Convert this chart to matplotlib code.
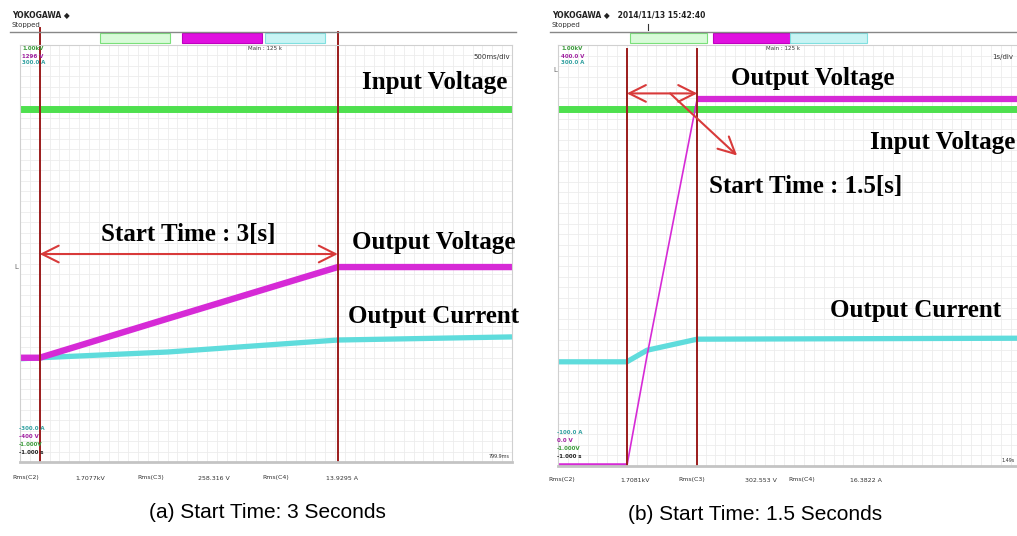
import matplotlib
matplotlib.use("Agg")
import numpy as np
import matplotlib.pyplot as plt

W, H = 1017, 536

# (a) 500 ms/div -- time in s, levels in screen divisions (0 = bottom of grid)
t_a = [0.0, 0.2, 1.5, 3.23, 5.0]
vin_a = [6.77, 6.77, 6.77, 6.77, 6.77]
vout_a = [2.0, 2.0, 2.75, 3.74, 3.74]
iout_a = [1.98, 2.0, 2.11, 2.34, 2.40]
start_a, end_a = 0.2, 3.23

# (b) 1 s/div
t_b = [0.0, 1.40, 1.81, 2.83, 10.0]
vin_b = [6.79, 6.79, 6.79, 6.79, 6.79]
vout_b = [0.0, 0.0, 2.1, 6.98, 6.98]
iout_b = [1.98, 1.98, 2.2, 2.41, 2.43]
start_b, end_b = 1.40, 2.83

GREEN = "#4ee04e"
MAGENTA = "#d62ad6"
CYAN = "#5fdcdc"
DARKRED = "#9b1c1c"
ARROW = "#d83a3a"
SERIF = "Liberation Serif"


def rect(x0, y0, x1, y1):
    return [x0 / W, 1 - y1 / H, (x1 - x0) / W, (y1 - y0) / H]


def ftext(x, y, s, **kw):
    fig.text(x / W, 1 - y / H, s, **kw)


fig = plt.figure(figsize=(W / 100, H / 100), dpi=100)


def scope_axes(box, xmax, minor):
    ax = fig.add_axes(box)
    ax.set_xlim(0, xmax)
    ax.set_ylim(0, 8)
    ax.set_xticks(np.arange(0, xmax + 1e-9, minor))
    ax.set_yticks(np.arange(0, 8.01, 0.2))
    ax.tick_params(length=0, labelbottom=False, labelleft=False)
    ax.grid(True, color="#ececec", linewidth=0.6)
    ax.set_axisbelow(True)
    for s in ax.spines.values():
        s.set_color("#d0d0d0")
    ax.spines["bottom"].set_linewidth(2)
    ax.spines["bottom"].set_color("#c4c4c4")
    return ax


def header(x0, x1, date, boxes):
    ftext(x0 + 2, 15, "YOKOGAWA \u25c6" + date, fontsize=5.5, fontweight="bold",
          va="center", color="#222222")
    ftext(x0 + 2, 25, "Stopped", fontsize=5, va="center", color="#333333")
    fig.add_artist(plt.Line2D([x0 / W, x1 / W], [1 - 32 / H] * 2, color="#888888", lw=1))
    for bx0, bx1, fc, ec in boxes:
        fig.add_artist(plt.Rectangle((bx0 / W, 1 - 43 / H), (bx1 - bx0) / W, 10 / H,
                                     facecolor=fc, edgecolor=ec, lw=0.8))


# ---------------- panel (a) ----------------
header(10, 516, "", [(100, 170, "#d8fbd8", "#7ae07a"), (182, 262, "#e010e0", "#c000c0"),
                     (265, 325, "#c8f4f4", "#80e0e0")])
axa = scope_axes(rect(20, 45, 512, 462), 5.0, 0.1)
axa.plot(t_a, vin_a, color=GREEN, lw=5, solid_capstyle="butt")
axa.plot(t_a, iout_a, color=CYAN, lw=3.8, solid_capstyle="butt")
axa.plot(t_a, vout_a, color=MAGENTA, lw=4.6, solid_capstyle="butt")
axa.axvline(start_a, ymin=0, ymax=1.04, color=DARKRED, lw=1.4, clip_on=False)
axa.axvline(end_a, ymin=0, ymax=1.03, color=DARKRED, lw=1.4, clip_on=False)
axa.annotate("", xy=(start_a, 3.99), xytext=(end_a, 3.99),
             arrowprops=dict(arrowstyle="<->,head_length=1.2,head_width=0.6", color=ARROW, lw=1.5,
                             shrinkA=0, shrinkB=0))
ftext(188, 234, "Start Time : 3[s]", family=SERIF, fontweight="bold", fontsize=18,
      ha="center", va="center")
ftext(435, 82, "Input Voltage", family=SERIF, fontweight="bold", fontsize=18,
      ha="center", va="center")
ftext(434, 242, "Output Voltage", family=SERIF, fontweight="bold", fontsize=18,
      ha="center", va="center")
ftext(434, 316, "Output Current", family=SERIF, fontweight="bold", fontsize=18,
      ha="center", va="center")
ftext(265, 49, "Main : 125 k", fontsize=4, ha="center", va="center", color="#333333")
ftext(510, 57, "500ms/div", fontsize=5, ha="right", va="center", color="#333333")
ftext(22, 49, "1.00kV", fontsize=4, color="#3a9a3a", fontweight="bold", va="center")
ftext(22, 56, "1296 V", fontsize=4, color="#a020a0", fontweight="bold", va="center")
ftext(22, 63, "300.0 A", fontsize=4, color="#30a0a0", fontweight="bold", va="center")
ftext(19, 429, "-300.0 A", fontsize=4, color="#30a0a0", fontweight="bold", va="center")
ftext(19, 437, "-400 V", fontsize=4, color="#a020a0", fontweight="bold", va="center")
ftext(19, 445, "-1.000V", fontsize=4, color="#3a9a3a", fontweight="bold", va="center")
ftext(19, 453, "-1.000 s", fontsize=4, color="#222222", fontweight="bold", va="center")
ftext(510, 456, "799.9ms", fontsize=3.5, ha="right", va="center", color="#333333")
ftext(14, 267, "L", fontsize=5, va="center", color="#666666")
for x, s in [(12, "Rms(C2)"), (75, "1.7077kV"), (137, "Rms(C3)"), (198, "258.316 V"),
             (262, "Rms(C4)"), (326, "13.9295 A")]:
    ftext(x, 478, s, fontsize=4.5, va="center", color="#333333")
ftext(267, 513, "(a) Start Time: 3 Seconds", family="Liberation Sans", fontsize=15,
      ha="center", va="center")

# ---------------- panel (b) ----------------
header(550, 1017, "   2014/11/13 15:42:40", [(630, 707, "#d8fbd8", "#7ae07a"),
                                            (713, 790, "#e010e0", "#c000c0"),
                                            (790, 867, "#c8f4f4", "#80e0e0")])
fig.add_artist(plt.Line2D([648 / W] * 2, [1 - 24 / H, 1 - 30 / H], color="#333333", lw=0.8))
axb = scope_axes(rect(558, 45, 1050, 466), 10.0, 0.2)
axb.plot(t_b, vin_b, color=GREEN, lw=5, solid_capstyle="butt")
axb.plot(t_b, iout_b, color=CYAN, lw=3.8, solid_capstyle="butt")
axb.plot(t_b[:2], vout_b[:2], color=MAGENTA, lw=4, solid_capstyle="butt")
axb.plot(t_b[1:4], vout_b[1:4], color=MAGENTA, lw=1.2)
axb.plot(t_b[3:], vout_b[3:], color=MAGENTA, lw=4.5, solid_capstyle="butt")
axb.axvline(start_b, ymin=0, ymax=0.99, color=DARKRED, lw=1.4)
axb.axvline(end_b, ymin=0, ymax=0.99, color=DARKRED, lw=1.4)
axb.annotate("", xy=(start_b, 7.08), xytext=(end_b, 7.08),
             arrowprops=dict(arrowstyle="<->,head_length=1.2,head_width=0.6", color=ARROW, lw=1.5,
                             shrinkA=0, shrinkB=0))
axb.annotate("", xy=(3.64, 5.9), xytext=(2.28, 7.08),
             arrowprops=dict(arrowstyle="->,head_length=1.2,head_width=0.6", color=ARROW, lw=1.5,
                             shrinkA=0, shrinkB=0))
ftext(813, 78, "Output Voltage", family=SERIF, fontweight="bold", fontsize=18,
      ha="center", va="center")
ftext(870, 142, "Input Voltage", family=SERIF, fontweight="bold", fontsize=18,
      ha="left", va="center")
ftext(806, 186, "Start Time : 1.5[s]", family=SERIF, fontweight="bold", fontsize=18,
      ha="center", va="center")
ftext(916, 310, "Output Current", family=SERIF, fontweight="bold", fontsize=18,
      ha="center", va="center")
ftext(783, 49, "Main : 125 k", fontsize=4, ha="center", va="center", color="#333333")
ftext(1013, 57, "1s/div", fontsize=5, ha="right", va="center", color="#333333")
ftext(561, 49, "1.00kV", fontsize=4, color="#3a9a3a", fontweight="bold", va="center")
ftext(561, 56, "400.0 V", fontsize=4, color="#a020a0", fontweight="bold", va="center")
ftext(561, 63, "300.0 A", fontsize=4, color="#30a0a0", fontweight="bold", va="center")
ftext(557, 433, "-100.0 A", fontsize=4, color="#30a0a0", fontweight="bold", va="center")
ftext(557, 441, "0.0 V", fontsize=4, color="#a020a0", fontweight="bold", va="center")
ftext(557, 449, "-1.000V", fontsize=4, color="#3a9a3a", fontweight="bold", va="center")
ftext(557, 457, "-1.000 s", fontsize=4, color="#222222", fontweight="bold", va="center")
ftext(1015, 460, "1.49s", fontsize=3.5, ha="right", va="center", color="#333333")
ftext(553, 70, "L", fontsize=5, va="center", color="#666666")
for x, s in [(548, "Rms(C2)"), (620, "1.7081kV"), (678, "Rms(C3)"), (745, "302.553 V"),
             (788, "Rms(C4)"), (850, "16.3822 A")]:
    ftext(x, 480, s, fontsize=4.5, va="center", color="#333333")
ftext(755, 515, "(b) Start Time: 1.5 Seconds", family="Liberation Sans", fontsize=15,
      ha="center", va="center")

fig.savefig("out.png", dpi=100)
